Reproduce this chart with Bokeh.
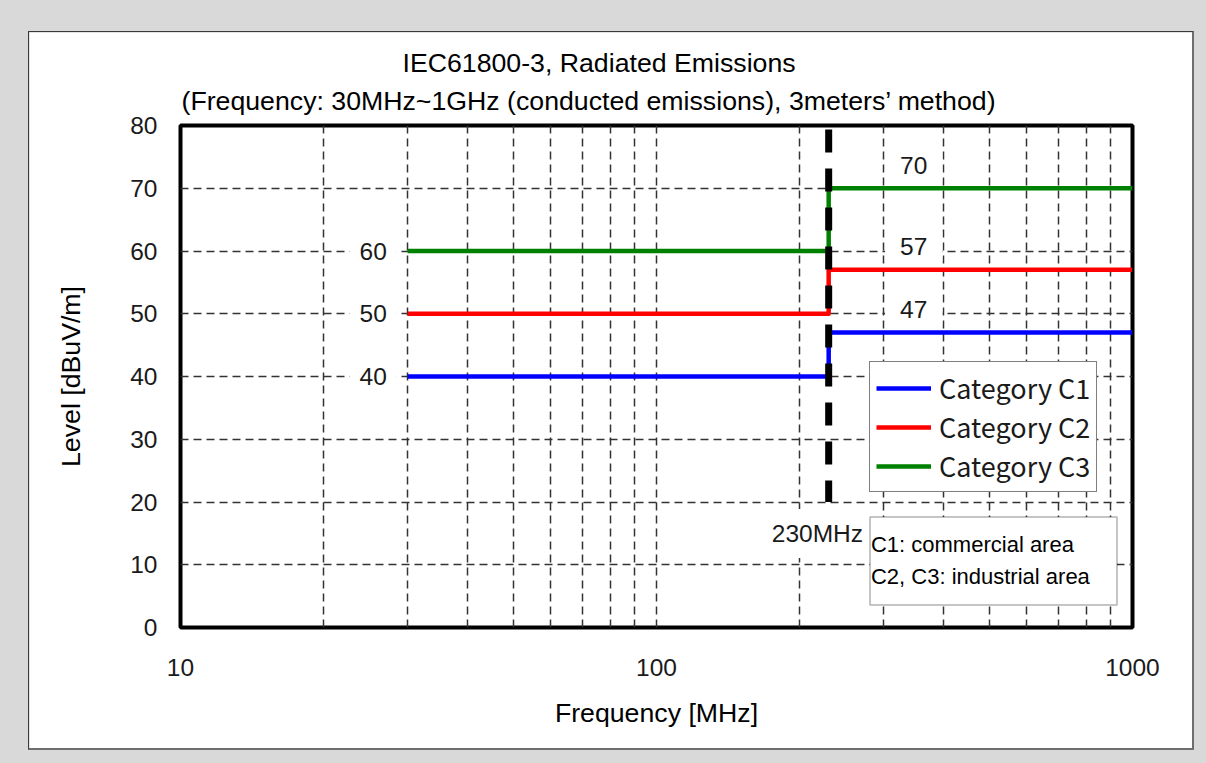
from bokeh.plotting import figure
from bokeh.models import Label, BoxAnnotation, FixedTicker, NumeralTickFormatter, Title
from bokeh.layouts import column
from bokeh.embed import file_html
from bokeh.resources import INLINE

# IEC 61800-3 radiated emission limits, 3 m method
freq_edges = [30, 230, 1000]                 # MHz: start, boundary, stop
categories = ["Category C1", "Category C2", "Category C3"]
levels_low = [40, 50, 60]                    # dBuV/m for 30-230 MHz
levels_high = [47, 57, 70]                   # dBuV/m for 230-1000 MHz
colors = ["#0000ff", "#ff0000", "#008000"]
boundary_freq = 230
boundary_span = [20, 80]                     # dBuV/m extent of the boundary marker
boundary_text = "230MHz"
x_major = [10, 100, 1000]
x_minor = [20, 30, 40, 50, 60, 70, 80, 90, 200, 300, 400, 500, 600, 700, 800, 900]
y_ticks = [0, 10, 20, 30, 40, 50, 60, 70, 80]
x_limits = (10, 1000)
y_limits = (0, 80)
note_lines = ["C1: commercial area", "C2, C3: industrial area"]
title_lines = ["IEC61800-3, Radiated Emissions",
               "(Frequency: 30MHz~1GHz (conducted emissions), 3meters\u2019 method)"]

# placement of the annotations (data coordinates)
low_label_x = 25.4
high_label_x = 347
high_label_lift = 3.7
boundary_text_pos = (275.5, 15)
note_box = dict(left=280.9, right=927.7, bottom=3.6, top=17.6)
note_text_x = 282.2
note_text_y = [13.3, 8.2]

SANS = "Liberation Sans"
BIG = "26.7px"
MID = "24.5px"

p = figure(width=1166, height=719, x_axis_type="log", title=None,
           x_range=x_limits, y_range=y_limits,
           output_backend="svg", toolbar_location=None,
           min_border_left=151, min_border_right=63,
           min_border_top=93, min_border_bottom=124,
           border_fill_color="white", background_fill_color="white",
           outline_line_color="black", outline_line_width=4)

# axes
for ax in (p.xaxis[0], p.yaxis[0]):
    ax.axis_line_color = None
    ax.major_tick_line_color = None
    ax.minor_tick_line_color = None
    ax.major_tick_out = 0
    ax.major_tick_in = 0
    ax.minor_tick_out = 0
    ax.minor_tick_in = 0
    ax.major_label_text_font = SANS
    ax.major_label_text_font_size = MID
    ax.major_label_text_color = "#1a1a1a"
    ax.axis_label_text_font = SANS
    ax.axis_label_text_font_size = BIG
    ax.axis_label_text_font_style = "normal"
    ax.axis_label_text_color = "black"

p.xaxis.axis_label = "Frequency [MHz]"
p.xaxis.ticker = FixedTicker(ticks=x_major, minor_ticks=x_minor)
p.xaxis.formatter = NumeralTickFormatter(format="0")
p.xaxis.major_label_standoff = 31
p.xaxis.axis_label_standoff = 19

p.yaxis.axis_label = "Level [dBuV/m]"
p.yaxis.ticker = FixedTicker(ticks=y_ticks)
p.yaxis.major_label_standoff = 23
p.yaxis.axis_label_standoff = 41

# dashed grid, including the minor decade lines
p.xgrid.ticker = FixedTicker(ticks=x_major, minor_ticks=x_minor)
p.ygrid.ticker = FixedTicker(ticks=y_ticks)
for g in (p.xgrid[0], p.ygrid[0]):
    g.grid_line_color = "#333333"
    g.grid_line_width = 1.5
    g.grid_line_dash = "8 5"
p.xgrid.minor_grid_line_color = "#333333"
p.xgrid.minor_grid_line_width = 1.5
p.xgrid.minor_grid_line_dash = "8 5"

# limit lines (step at the boundary frequency)
for name, lo, hi, col in zip(categories, levels_low, levels_high, colors):
    xs = [freq_edges[0], freq_edges[1], freq_edges[1], freq_edges[2]]
    ys = [lo, lo, hi, hi]
    p.line(xs, ys, line_color=col, line_width=4.5, line_join="round",
           legend_label=name)

# boundary marker
p.line([boundary_freq, boundary_freq], [boundary_span[1], boundary_span[0]],
       line_color="black", line_width=7, line_dash="23 16", line_dash_offset=35)


def value_label(x, y, text, pad):
    return Label(x=x, y=y, text=text, text_align="center", text_baseline="middle",
                 text_font=SANS, text_font_size=MID, text_color="#1a1a1a",
                 background_fill_color="white", background_fill_alpha=1.0,
                 padding=pad)


for lo in levels_low:
    p.add_layout(value_label(low_label_x, lo, str(lo), (10, 5)))
for hi in levels_high:
    p.add_layout(value_label(high_label_x, hi + high_label_lift, str(hi), (15, 6)))

p.add_layout(Label(x=boundary_text_pos[0], y=boundary_text_pos[1], text=boundary_text,
                   text_align="right", text_baseline="middle",
                   text_font=SANS, text_font_size=MID, text_color="#1a1a1a",
                   background_fill_color="white", background_fill_alpha=1.0,
                   padding=(3, 11)))

# note box
p.add_layout(BoxAnnotation(fill_color="white", fill_alpha=1.0,
                           line_color="black", line_width=1.5, **note_box))
for txt, ty in zip(note_lines, note_text_y):
    p.add_layout(Label(x=note_text_x, y=ty, text=txt, text_align="left",
                       text_baseline="middle", text_font=SANS,
                       text_font_size="22px", text_color="black"))

# two-line title: the lower line goes in first so it sits next to the frame
title_style = dict(align="left", text_font=SANS, text_font_size=BIG,
                   text_font_style="normal", text_color="black")
p.add_layout(Title(text=title_lines[1], offset=1, vertical_align="top",
                   standoff=16, **title_style), "above")
p.add_layout(Title(text=title_lines[0], offset=222, vertical_align="bottom",
                   standoff=0, **title_style), "above")

# legend
leg = p.legend[0]
leg.location = (689, 135)
leg.margin = 0
leg.padding = 6
leg.spacing = 0
leg.glyph_width = 55
leg.glyph_height = 30
leg.label_height = 30
leg.label_standoff = 8
leg.label_text_font = "Noto Sans CJK JP"
leg.label_text_font_size = "27px"
leg.label_text_color = "#1a1a1a"
leg.label_text_baseline = "middle"
leg.border_line_color = "black"
leg.border_line_width = 1.5
leg.background_fill_color = "white"
leg.background_fill_alpha = 1.0

p.margin = (31, 12, 13, 28)
p.styles = {"border-top": "1px solid #3a3a3a", "border-left": "1px solid #3a3a3a",
            "border-right": "2px solid #6e6e6e", "border-bottom": "2px solid #6e6e6e",
            "box-sizing": "border-box"}

root = column(p, width=1206, height=763,
              styles={"background-color": "#d9d9d9"})

open("out.html", "w").write(file_html(root, INLINE))
